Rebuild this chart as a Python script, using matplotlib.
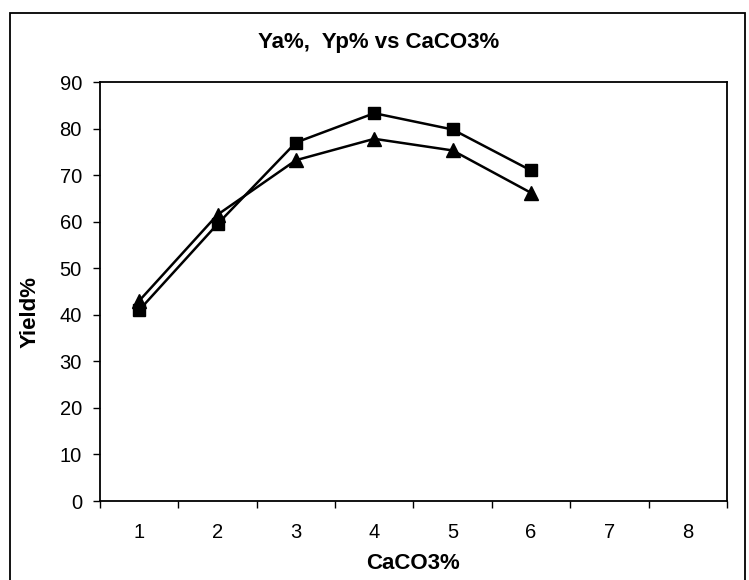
import matplotlib.pyplot as plt
from matplotlib.patches import Rectangle

plt.rcParams['font.family'] = ['Liberation Sans', 'DejaVu Sans']

# data
caco3 = [1, 2, 3, 4, 5, 6]
ya = [41.0, 59.5, 77.0, 83.3, 79.8, 71.0]   # squares
yp = [43.0, 61.5, 73.2, 77.8, 75.3, 66.2]   # triangles
x_labels = ['1', '2', '3', '4', '5', '6', '7', '8']
y_ticks = [0, 10, 20, 30, 40, 50, 60, 70, 80, 90]

fig = plt.figure(figsize=(7.49, 5.8), dpi=100)
ax = fig.add_axes([0.1335, 0.1362, 0.837, 0.7224])

ax.plot(caco3, ya, color='black', lw=1.8, marker='s', ms=8.5, mfc='black', mec='black')
ax.plot(caco3, yp, color='black', lw=1.8, marker='^', ms=10, mfc='black', mec='black')

ax.set_xlim(0.5, 8.5)
ax.set_ylim(0, 90)
ax.set_yticks(y_ticks)
ax.set_xticks(range(1, len(x_labels) + 1))
ax.set_xticklabels(x_labels)
ax.set_xticks([i + 0.5 for i in range(0, len(x_labels) + 1)], minor=True)
ax.tick_params(axis='x', which='major', length=0, pad=16, labelsize=14.5)
ax.tick_params(axis='x', which='minor', length=5, width=1, direction='out')
ax.tick_params(axis='y', which='major', length=5, width=1, direction='out', pad=8, labelsize=14.5)

for s in ax.spines.values():
    s.set_color('black')
    s.set_linewidth(1.3)

ax.set_xlabel('CaCO3%', fontsize=16, fontweight='bold', labelpad=8)
ax.set_ylabel('Yield%', fontsize=16, fontweight='bold')
ax.yaxis.set_label_coords(-0.095, 0.45)
fig.text(0.505, 0.926, 'Ya%,  Yp% vs CaCO3%', ha='center', va='center',
         fontsize=16, fontweight='bold')

# chart-area border (extends past the bottom of the image)
fig.patches.append(Rectangle((10 / 749, -0.05), 735 / 749, 1 - 13 / 580 + 0.05,
                             transform=fig.transFigure, fill=False,
                             edgecolor='black', lw=1.3, clip_on=False))

fig.savefig('out.png', dpi=100)
